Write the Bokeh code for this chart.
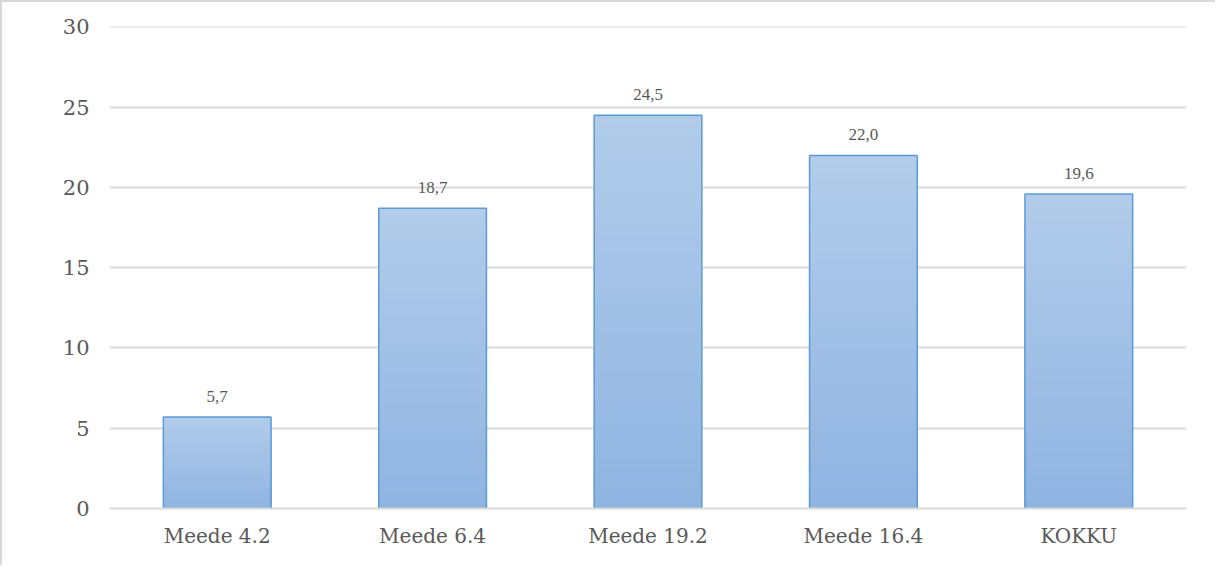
from bokeh.plotting import figure
from bokeh.models import ColumnDataSource, FactorRange, Range1d, SingleIntervalTicker, LabelSet
from bokeh.embed import file_html
from bokeh.resources import INLINE

categories = ["Meede 4.2", "Meede 6.4", "Meede 19.2", "Meede 16.4", "KOKKU"]
values = [5.7, 18.7, 24.5, 22.0, 19.6]
labels = ["5,7", "18,7", "24,5", "22,0", "19,6"]

FONT = "DejaVu Serif"
TXT = "#595959"

p = figure(width=1215, height=565, output_backend="svg", toolbar_location=None,
           x_range=FactorRange(*categories, range_padding=0),
           y_range=Range1d(0, 30.03),
           min_border_left=107, min_border_right=31, min_border_top=24, min_border_bottom=59)
p.outline_line_color = None
p.styles = {"border-left": "2px solid #d9d9d9", "border-top": "2px solid #d9d9d9"}

# gradient bars: nested bars from tallest (top colour) to shortest (bottom colour)
top_rgb = (0xb2, 0xcc, 0xea)
bot_rgb = (0x8f, 0xb4, 0xe2)
N = 40
xs, tops, cols = [], [], []
for c, v in zip(categories, values):
    for k in range(N, 0, -1):
        f = (k - 0.5) / N
        rgb = tuple(int(round(b + (t - b) * f)) for b, t in zip(bot_rgb, top_rgb))
        xs.append(c)
        tops.append(v * k / N)
        cols.append("#%02x%02x%02x" % rgb)
p.vbar(x=xs, bottom=0, top=tops, width=0.5, fill_color=cols, line_color=None)

src = ColumnDataSource(dict(x=categories, top=values, lab=labels))
p.vbar(x="x", top="top", width=0.5, source=src, fill_color=None, line_color="#5b9bd5", line_width=1.5)

ls = LabelSet(x="x", y="top", text="lab", source=src, text_align="center", text_baseline="bottom",
              y_offset=15, text_font=FONT, text_font_size="17px", text_color=TXT)
p.add_layout(ls)

p.yaxis.ticker = SingleIntervalTicker(interval=5)
p.yaxis.axis_line_color = None
p.yaxis.major_tick_line_color = None
p.yaxis.minor_tick_line_color = None
p.yaxis.major_label_standoff = 14
p.yaxis.major_label_text_font = FONT
p.yaxis.major_label_text_font_size = "21px"
p.yaxis.major_label_text_color = TXT

p.xaxis.axis_line_color = "#d9d9d9"
p.xaxis.axis_line_width = 2
p.xaxis.major_tick_line_color = None
p.xaxis.minor_tick_line_color = None
p.xaxis.major_label_standoff = 9
p.xaxis.major_label_text_font = FONT
p.xaxis.major_label_text_font_size = "20px"
p.xaxis.major_label_text_color = TXT

p.xgrid.grid_line_color = None
p.ygrid.grid_line_color = "#d9d9d9"
p.ygrid.grid_line_width = 2

open("out.html", "w").write(file_html(p, INLINE))
